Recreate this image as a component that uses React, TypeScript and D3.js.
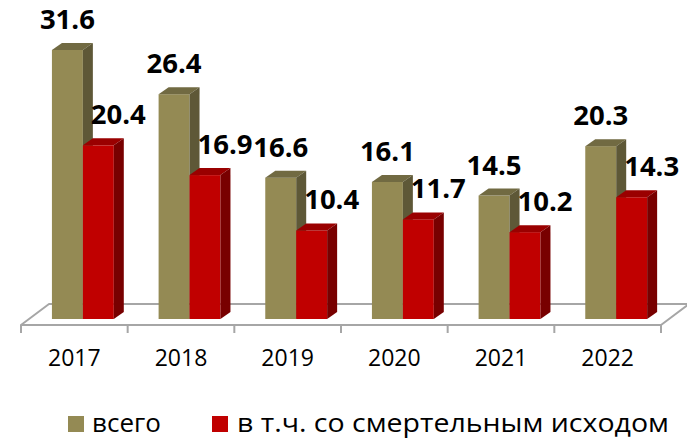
import React from "react";
import * as d3 from "d3";

const years = ["2017", "2018", "2019", "2020", "2021", "2022"];
const totalValues = [31.6, 26.4, 16.6, 16.1, 14.5, 20.3];
const fatalValues = [20.4, 16.9, 10.4, 11.7, 10.2, 14.3];
const seriesNames = ["всего", "в т.ч. со смертельным исходом"];

const W = 687;
const H = 439;

const goldColors = { front: "#948A54", top: "#716A42", side: "#5E5837" };
const redColors = { front: "#C00000", top: "#9A0000", side: "#780000" };

const FONT = "'Open Sans', 'DejaVu Sans', sans-serif";

export default function App() {
  const x = d3.scaleBand<string>().domain(years).range([21, 661]).padding(0);
  const y = d3.scaleLinear().domain([0, 35]).range([319, 21]);
  const bw = x.bandwidth();
  const barW = bw * 0.29;
  const dx = 10;
  const dy = 7;

  const floorFront = 325;
  const floorBack = 304;
  const floorDx = 28;

  const bar = (x0: number, v: number, c: typeof goldColors, key: string) => {
    const top = y(v);
    const bottom = y(0);
    const x1 = x0 + barW;
    return (
      <g key={key}>
        <rect x={x0} y={top} width={barW} height={bottom - top} fill={c.front} />
        <polygon
          points={`${x0},${top} ${x0 + dx},${top - dy} ${x1 + dx},${top - dy} ${x1},${top}`}
          fill={c.top}
        />
        <polygon
          points={`${x1},${top} ${x1 + dx},${top - dy} ${x1 + dx},${bottom - dy} ${x1},${bottom}`}
          fill={c.side}
        />
      </g>
    );
  };

  const tickXs = [...years.map((d) => x(d) as number), 661];

  return (
    <svg
      width={W}
      height={H}
      style={{ position: "fixed", left: 0, top: 0, background: "#fff" }}
      fontFamily={FONT}
    >
      <rect x={0} y={0} width={W} height={H} fill="#fff" />
      {/* floor */}
      <polygon
        points={`21,${floorFront} 661,${floorFront} ${661 + floorDx},${floorBack} ${21 + floorDx},${floorBack}`}
        fill="#fff"
        stroke="#A6A6A6"
        strokeWidth={2}
        strokeLinejoin="round"
      />
      {tickXs.map((t, i) => (
        <line key={i} x1={t} x2={t} y1={floorFront} y2={floorFront + 8} stroke="#A6A6A6" strokeWidth={2} />
      ))}
      {/* bars */}
      {years.map((yr, i) => {
        const gx = (x(yr) as number) + bw * 0.29;
        const rx = gx + barW;
        return (
          <g key={yr}>
            {bar(gx, totalValues[i], goldColors, "g")}
            {bar(rx, fatalValues[i], redColors, "r")}
          </g>
        );
      })}
      {/* labels */}
      {years.map((yr, i) => {
        const gx = (x(yr) as number) + bw * 0.29;
        const rx = gx + barW;
        return (
          <g key={"l" + yr} fontWeight="bold" fontSize={27.5} fill="#000" textAnchor="middle">
            <text x={gx + barW / 2} y={y(totalValues[i]) - 21}>
              {totalValues[i].toFixed(1)}
            </text>
            <text x={rx + barW / 2 + 20} y={y(fatalValues[i]) - 21}>
              {fatalValues[i].toFixed(1)}
            </text>
          </g>
        );
      })}
      {/* category labels */}
      {years.map((yr) => (
        <text
          key={"c" + yr}
          x={(x(yr) as number) + bw / 2}
          y={366}
          fontSize={23}
          textAnchor="middle"
          fill="#000"
        >
          {yr}
        </text>
      ))}
      {/* legend */}
      <g fontSize={26} fill="#000">
        <rect x={68} y={416} width={16} height={16} fill={goldColors.front} />
        <text x={92} y={432}>{seriesNames[0]}</text>
        <rect x={212} y={416} width={16} height={16} fill={redColors.front} />
        <text x={237} y={432} textLength={432} lengthAdjust="spacingAndGlyphs">
          {seriesNames[1]}
        </text>
      </g>
    </svg>
  );
}
